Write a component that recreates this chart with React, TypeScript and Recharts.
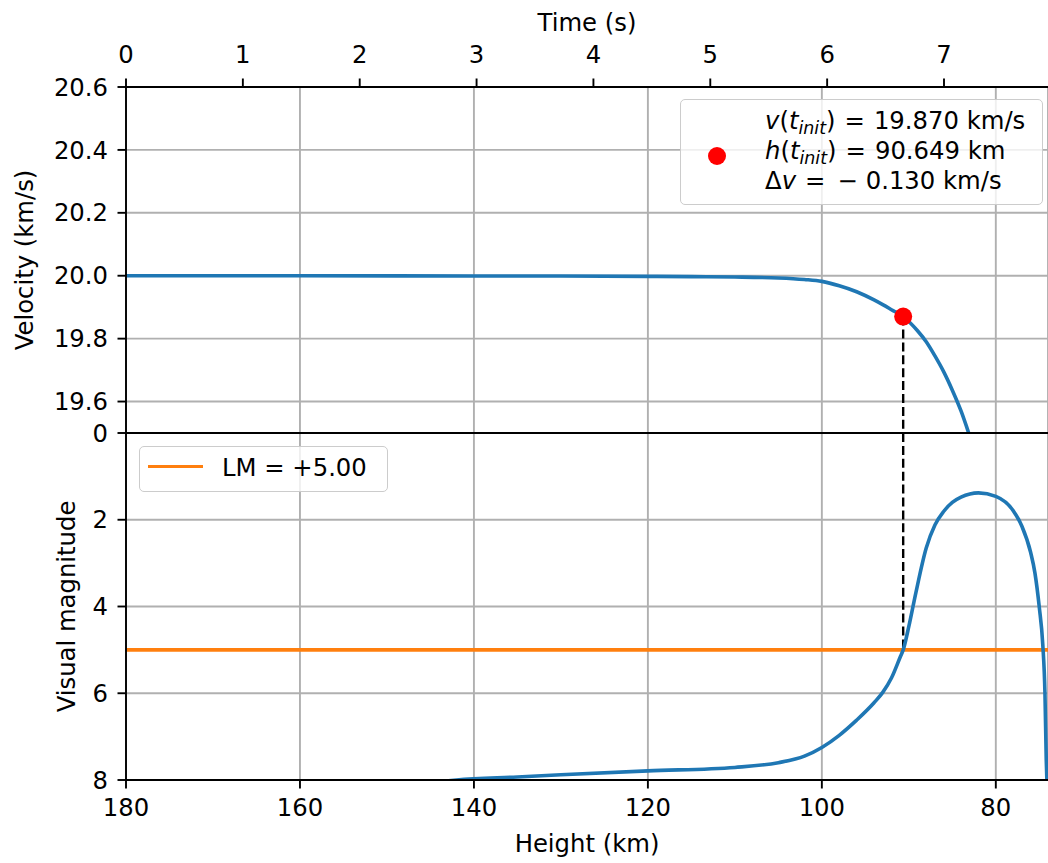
import React from 'react';
import {
  ComposedChart,
  Line,
  XAxis,
  YAxis,
  CartesianGrid,
  ReferenceLine,
  ReferenceDot,
  Legend,
} from 'recharts';

// ---- data ----
const heightTicks = [180, 160, 140, 120, 100, 80];
const timeTicks = [0, 1, 2, 3, 4, 5, 6, 7];
const velocityTicks = [19.6, 19.8, 20.0, 20.2, 20.4, 20.6];
const magnitudeTicks = [0, 2, 4, 6, 8];

const heightDomain = [74, 180];
const timeDomain = [0, 7.89];
const velocityDomain = [19.5, 20.6];
const magnitudeDomain = [0, 8];

const velHeights = [180, 160, 140, 130, 120, 115, 110, 105, 102, 100, 98, 96, 94, 93, 92, 90.649, 89, 88, 87, 86, 85, 84, 83];
const velValues = [20.0, 20.0, 19.999, 19.999, 19.998, 19.997, 19.996, 19.993, 19.988, 19.982, 19.968, 19.949, 19.923, 19.908, 19.892, 19.87, 19.825, 19.79, 19.745, 19.695, 19.636, 19.57, 19.49];

const magHeights = [150, 142, 135, 130, 120, 110, 105, 102, 100, 98, 96, 94, 93, 92, 91, 90.649, 90, 89.2, 88, 87, 86, 85, 84, 82, 80, 78, 77, 76, 75.5, 75, 74.6, 74.35, 74.2, 74.05];
const magValues = [8.2, 8.0, 7.93, 7.88, 7.79, 7.71, 7.6, 7.45, 7.25, 6.97, 6.62, 6.22, 5.98, 5.65, 5.17, 5.0, 4.46, 3.69, 2.65, 2.12, 1.81, 1.6, 1.48, 1.38, 1.46, 1.79, 2.15, 2.75, 3.23, 4.02, 4.88, 6.0, 7.54, 8.5];

const limitingMagnitude = 5.0;
const vInit = 19.87;
const hInit = 90.649;
const deltaV = -0.13;

const velData = velHeights.map((h, i) => ({ h, v: velValues[i] }));
const magData = magHeights.map((h, i) => ({ h, m: magValues[i] }));
const lmData = heightDomain.map((h) => ({ h, m: limitingMagnitude }));
// time-axis carrier (no visible values, only gives the top axis its data)
const timeData = timeDomain.map((t) => ({ t, v: null as number | null }));

// ---- styles ----
const FONT = 'DejaVu Sans';
const FS = 24.3;
const tickStyle = { fill: '#000', fontSize: FS, fontFamily: FONT };
const axisLineStyle = { stroke: '#000', strokeWidth: 1.9 };
const BLUE = '#1f77b4';
const ORANGE = '#ff7f0e';

const sub = { fontSize: '72%', position: 'relative' as const, top: 5 };
const eq = { margin: '0 9px' };

const TopLegend = () => (
  <div
    style={{
      position: 'relative',
      width: 363,
      height: 106,
      boxSizing: 'border-box',
      border: '1.5px solid #cccccc',
      borderRadius: 5,
      background: 'rgba(255,255,255,0.8)',
      fontFamily: FONT,
      fontSize: FS,
      color: '#000',
      lineHeight: `${FS}px`,
      whiteSpace: 'nowrap',
    }}
  >
    <div
      style={{
        position: 'absolute',
        left: 27,
        top: 47,
        width: 18,
        height: 18,
        borderRadius: 9,
        background: '#ff0000',
      }}
    />
    <div style={{ position: 'absolute', left: 84, top: 9 }}>
      <i>v</i>(<i>t</i>
      <i style={sub}>init</i>)<span style={eq}>=</span>{vInit.toFixed(3)} km/s
    </div>
    <div style={{ position: 'absolute', left: 84, top: 39 }}>
      <i>h</i>(<i>t</i>
      <i style={sub}>init</i>)<span style={eq}>=</span>{hInit.toFixed(3)} km
    </div>
    <div style={{ position: 'absolute', left: 84, top: 69 }}>
      Δ<i>v</i><span style={eq}>=</span>
      <span style={{ marginLeft: 3, marginRight: 8 }}>−</span>
      {Math.abs(deltaV).toFixed(3)} km/s
    </div>
  </div>
);

const BottomLegend = () => (
  <div
    style={{
      position: 'relative',
      width: 249,
      height: 46,
      boxSizing: 'border-box',
      border: '1.5px solid #cccccc',
      borderRadius: 5,
      background: 'rgba(255,255,255,0.8)',
      fontFamily: FONT,
      fontSize: FS,
      color: '#000',
      lineHeight: `${FS}px`,
      whiteSpace: 'nowrap',
    }}
  >
    <div
      style={{
        position: 'absolute',
        left: 8,
        top: 17.5,
        width: 55,
        height: 3.6,
        background: ORANGE,
      }}
    />
    <div style={{ position: 'absolute', left: 82, top: 9 }}>
      LM = +{limitingMagnitude.toFixed(2)}
    </div>
  </div>
);

export default function App() {
  return (
    <div
      style={{
        position: 'absolute',
        left: 0,
        top: 0,
        width: 1048,
        height: 863,
        background: '#fff',
        overflow: 'hidden',
      }}
    >
      {/* Top panel: velocity */}
      <div style={{ position: 'absolute', left: 0, top: 0 }}>
        <ComposedChart width={1048} height={433} margin={{ top: 0, right: 0, bottom: 0, left: 0 }}>
          <CartesianGrid stroke="#b0b0b0" strokeWidth={1.9} />
          <XAxis
            dataKey="h"
            type="number"
            domain={heightDomain}
            ticks={heightTicks}
            reversed
            allowDataOverflow
            hide
          />
          <XAxis
            xAxisId="time"
            dataKey="t"
            type="number"
            orientation="top"
            domain={timeDomain}
            ticks={timeTicks}
            allowDataOverflow
            height={87}
            tick={tickStyle}
            tickLine={axisLineStyle}
            axisLine={axisLineStyle}
            tickSize={8.5}
            tickMargin={15.5}
            label={{
              value: 'Time (s)',
              position: 'insideTop',
              offset: 14,
              style: { fill: '#000', fontSize: FS, fontFamily: FONT },
            }}
          />
          <YAxis
            type="number"
            domain={velocityDomain}
            ticks={velocityTicks}
            allowDataOverflow
            width={126}
            tick={tickStyle}
            tickLine={axisLineStyle}
            axisLine={axisLineStyle}
            tickSize={8.5}
            tickMargin={9.5}
            tickFormatter={(v: number) => v.toFixed(1)}
            label={{
              value: 'Velocity (km/s)',
              angle: -90,
              position: 'insideLeft',
              offset: 24,
              style: { fill: '#000', fontSize: FS, fontFamily: FONT, textAnchor: 'middle' },
            }}
          />
          <Line
            xAxisId="time"
            data={timeData}
            dataKey="v"
            stroke="none"
            dot={false}
            activeDot={false}
            legendType="none"
            isAnimationActive={false}
          />
          <ReferenceLine
            segment={[
              { x: hInit, y: vInit },
              { x: hInit, y: velocityDomain[0] },
            ]}
            stroke="#000"
            strokeWidth={2.4}
            strokeDasharray="9 3.9"
          />
          <Line
            data={velData}
            dataKey="v"
            type="monotone"
            stroke={BLUE}
            strokeWidth={3.6}
            dot={false}
            isAnimationActive={false}
          />
          <ReferenceDot x={hInit} y={vInit} r={9} fill="#ff0000" stroke="none" />
          <Legend
            layout="horizontal"
            verticalAlign="middle"
            align="center"
            content={() => <TopLegend />}
            wrapperStyle={{ left: 680, top: 99, width: 363, height: 106, right: 'auto', bottom: 'auto' }}
          />
        </ComposedChart>
      </div>

      {/* Bottom panel: magnitude */}
      <div style={{ position: 'absolute', left: 0, top: 400 }}>
        <ComposedChart width={1048} height={463} margin={{ top: 33, right: 0, bottom: 0, left: 0 }}>
          <CartesianGrid stroke="#b0b0b0" strokeWidth={1.9} />
          <XAxis
            dataKey="h"
            type="number"
            domain={heightDomain}
            ticks={heightTicks}
            reversed
            allowDataOverflow
            height={83}
            tick={tickStyle}
            tickLine={axisLineStyle}
            axisLine={axisLineStyle}
            tickSize={8.5}
            tickMargin={10}
            label={{
              value: 'Height (km)',
              position: 'insideBottom',
              offset: 11,
              style: { fill: '#000', fontSize: FS, fontFamily: FONT },
            }}
          />
          <YAxis
            type="number"
            domain={magnitudeDomain}
            ticks={magnitudeTicks}
            reversed
            allowDataOverflow
            width={126}
            tick={tickStyle}
            tickLine={axisLineStyle}
            axisLine={axisLineStyle}
            tickSize={8.5}
            tickMargin={9.5}
            label={{
              value: 'Visual magnitude',
              angle: -90,
              position: 'insideLeft',
              offset: 66,
              style: { fill: '#000', fontSize: FS, fontFamily: FONT, textAnchor: 'middle' },
            }}
          />
          <ReferenceLine y={magnitudeDomain[0]} stroke="#000" strokeWidth={1.9} />
          <ReferenceLine
            segment={[
              { x: hInit, y: magnitudeDomain[0] },
              { x: hInit, y: limitingMagnitude },
            ]}
            stroke="#000"
            strokeWidth={2.4}
            strokeDasharray="9 3.9"
          />
          <Line
            data={lmData}
            dataKey="m"
            type="linear"
            stroke={ORANGE}
            strokeWidth={3.6}
            dot={false}
            isAnimationActive={false}
          />
          <Line
            data={magData}
            dataKey="m"
            type="monotone"
            stroke={BLUE}
            strokeWidth={3.6}
            dot={false}
            isAnimationActive={false}
          />
          <Legend
            layout="horizontal"
            verticalAlign="middle"
            align="center"
            content={() => <BottomLegend />}
            wrapperStyle={{ left: 139, top: 46, width: 249, height: 46, right: 'auto', bottom: 'auto' }}
          />
        </ComposedChart>
      </div>
    </div>
  );
}
